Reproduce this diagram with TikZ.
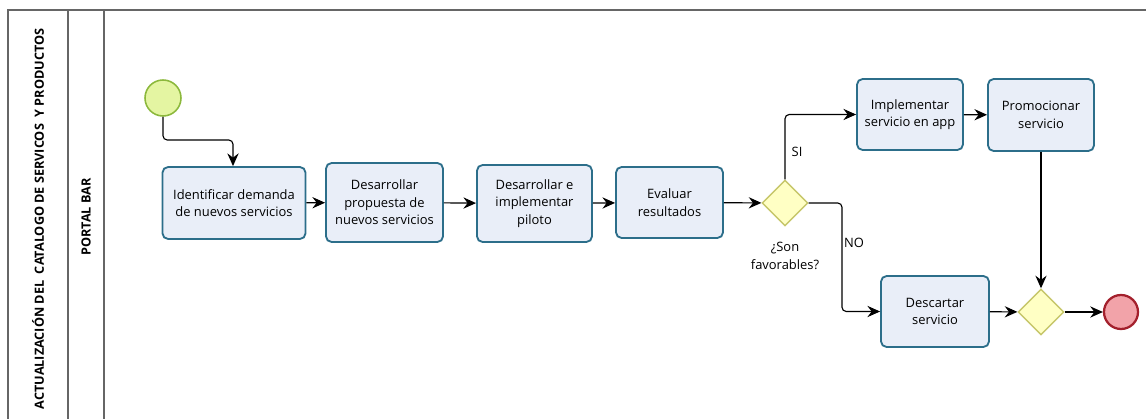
\documentclass[tikz,border=0pt]{standalone}
\usepackage{fontspec}
\setmainfont{Open Sans}
\usetikzlibrary{arrows.meta,shapes.geometric}
\definecolor{taskfill}{HTML}{E9EEF8}
\definecolor{taskline}{HTML}{2C6E8A}
\definecolor{startfill}{HTML}{E4F5A2}
\definecolor{startline}{HTML}{8CB83C}
\definecolor{gatefill}{HTML}{FFFFC4}
\definecolor{gateline}{HTML}{C6C66A}
\definecolor{endfill}{HTML}{F2A3A9}
\definecolor{endline}{HTML}{A3202C}
\begin{document}
\begin{tikzpicture}[x=0.025cm,y=-0.025cm,
  task/.style={draw=taskline, fill=taskfill, line width=1.3pt, rounded corners=4pt, align=center, font=\fontsize{9.2}{12.5}\selectfont},
  startev/.style={circle, draw=startline, fill=startfill, line width=1.1pt, minimum size=0.9cm},
  endev/.style={circle, draw=endline, fill=endfill, line width=1.6pt, minimum size=0.85cm},
  gate/.style={diamond, draw=gateline, fill=gatefill, line width=1pt, minimum width=1.15cm, minimum height=1.15cm, inner sep=0pt},
  flow/.style={-{Stealth[length=9pt,width=8pt,inset=3pt]}, line width=0.8pt},
  elbow/.style={flow, rounded corners=3pt},
  lbl/.style={font=\fontsize{9.2}{12.5}\selectfont, align=center},
  lane/.style={font=\bfseries\fontsize{9}{10}\selectfont, rotate=90}]
\useasboundingbox (0,0) rectangle (1146,419);
% pool and lane
\draw[gray!80!black, line width=0.8pt] (8,419) -- (8,10) -- (1146,10);
\draw[gray!80!black, line width=0.8pt] (68,10) -- (68,419);
\draw[gray!80!black, line width=0.8pt] (104,10) -- (104,419);
\node[lane] (pool) at (38,219) {ACTUALIZACIÓN DEL\ \ CATALOGO DE SERVICOS\ \ Y PRODUCTOS};
\node[lane] (bar) at (86,217) {PORTAL BAR};
% events, tasks and gateways
\node[startev] (start) at (163,98) {};
\node[task, minimum width=3.575cm, minimum height=1.8cm] (ident) at (234,203) {Identificar demanda\\ de nuevos servicios};
\node[task, minimum width=2.925cm, minimum height=1.975cm] (propuesta) at (384.5,202.5) {Desarrollar\\ propuesta de\\ nuevos servicios};
\node[task, minimum width=2.875cm, minimum height=1.925cm] (piloto) at (534.5,203.5) {Desarrollar e\\ implementar\\ piloto};
\node[task, minimum width=2.675cm, minimum height=1.775cm] (evaluar) at (669.5,202.5) {Evaluar\\ resultados};
\node[gate] (fav) at (785,203) {};
\node[lbl] (favtxt) at (785,256) {¿Son\\ favorables?};
\node[task, minimum width=2.65cm, minimum height=1.775cm] (app) at (910,114.5) {Implementar\\ servicio en app};
\node[task, minimum width=2.65cm, minimum height=1.8cm] (promo) at (1041,115) {Promocionar\\ servicio};
\node[task, minimum width=2.7cm, minimum height=1.775cm] (descartar) at (935,311.5) {Descartar\\ servicio};
\node[gate] (join) at (1041,312) {};
\node[endev] (fin) at (1121,312) {};
% flows
\coordinate (c1) at (233,140);
\coordinate (c2) at (842,203);
\draw[elbow] (start.south) |- (c1) -- (c1 |- ident.north);
\draw[flow] (ident) -- (propuesta);
\draw[flow] (propuesta) -- (piloto);
\draw[flow] (piloto) -- (evaluar);
\draw[flow] (evaluar) -- (fav);
\draw[elbow] (fav.north) |- (app.west);
\draw[elbow] (fav.east) -- (c2) |- (descartar.west);
\draw[flow] (app) -- (promo);
\draw[flow] (promo) -- (join);
\draw[flow] (descartar) -- (join);
\draw[flow] (join) -- (fin);
\node[lbl] (si) at (797,152) {SI};
\node[lbl] (no) at (854,243) {NO};
\end{tikzpicture}
\end{document}
